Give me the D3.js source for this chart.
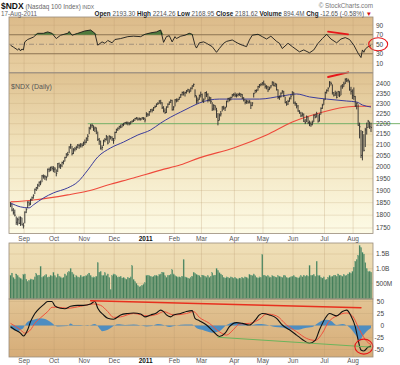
<!DOCTYPE html>
<html><head><meta charset="utf-8">
<script src="https://cdn.jsdelivr.net/npm/d3@7"></script>
<style>body{margin:0;background:#fff}svg{display:block}text{font-family:"Liberation Sans",Arial,sans-serif}</style>
</head><body><svg id="c" width="400" height="365"></svg>
<script>
// ---------- DATA ----------
const monthLabels = ["Sep","Oct","Nov","Dec","2011","Feb","Mar","Apr","May","Jun","Jul","Aug"];
const monthCounts = [10,21,21,21,22,20,19,23,20,21,22,20,13]; // trading days per month, Aug-2010 .. Aug-2011
const priceTicks = [1750,1800,1850,1900,1950,2000,2050,2100,2150,2200,2250,2300,2350,2400];
const rsiTicks = [10,30,50,70,90];
const volTicks = [5e8,1e9,1.5e9];
const volTickLabels = ["500M","1.0B","1.5B"];
const macdTicks = [-50,-25,0,25,50];

const closes = [
1842,1820,1810,1800,1772,1782,1768,1790,1762,1758,
1812,1822,1852,1845,1862,1870,1880,1905,1912,1922,1935,1932,1962,1960,1958,1955,1990,1988,1998,1995,1990,
1992,1972,2015,2005,2006,2020,2025,2042,2058,2056,2090,2100,2060,2078,2082,2088,2098,2096,2100,2098,2110,
2112,2130,2140,2178,2190,2192,2175,2180,2165,2125,2118,2085,2088,2120,2125,2140,2108,2140,2135,2128,2120,
2158,2172,2178,2186,2183,2195,2198,2205,2204,2203,2200,2208,2212,2216,2225,2228,2222,2224,2222,2228,2226,2218,
2245,2243,2258,2268,2266,2278,2284,2296,2300,2312,2303,2278,2262,2254,2282,2296,2306,2315,2268,2282,
2318,2316,2320,2330,2344,2356,2352,2355,2365,2370,2360,2378,2390,2398,2340,2315,2318,2340,2345,
2312,2318,2355,2345,2318,2328,2310,2272,2290,2282,2262,2215,2242,2248,2282,2276,2278,2310,2325,2318,2330,2343,2345,
2342,2340,2345,2348,2345,2328,2318,2305,2310,2306,2312,2290,2302,2350,2366,2367,2386,2395,2398,2405,
2400,2388,2384,2370,2378,2390,2410,2392,2400,2370,2330,2332,2352,2362,2338,2305,2297,2310,2326,2337,2358,
2302,2300,2287,2262,2252,2238,2246,2212,2205,2232,2205,2200,2195,2205,2240,2232,2248,2212,2245,2275,2290,2318,
2355,2366,2378,2410,2402,2355,2342,2350,2330,2360,2340,2390,2385,2400,2425,2418,2420,2370,2362,2340,
2335,2288,2300,2192,2185,2052,2160,2075,2170,2182,2212,2185,2182];
const lows = [
1832,1815,1802,1795,1762,1760,1765,1758,1760,1748,
1768,1808,1828,1836,1840,1858,1866,1885,1898,1905,1915,1922,1935,1950,1945,1942,1958,1978,1982,1985,1978,
1975,1960,1978,1995,1992,2000,2012,2025,2040,2048,2062,2082,2052,2058,2070,2076,2084,2082,2088,2088,2095,
2100,2108,2118,2150,2172,2180,2165,2160,2150,2118,2100,2078,2075,2095,2112,2120,2102,2110,2125,2118,2105,
2125,2155,2165,2172,2178,2182,2188,2196,2196,2192,2192,2196,2205,2208,2214,2220,2215,2216,2215,2220,2218,2206,
2232,2234,2238,2255,2255,2262,2276,2282,2292,2298,2295,2272,2255,2248,2252,2278,2292,2302,2264,2265,
2285,2305,2308,2318,2328,2340,2340,2335,2350,2358,2352,2360,2372,2385,2330,2298,2300,2318,2330,
2308,2302,2320,2332,2305,2310,2298,2262,2265,2265,2228,2192,2215,2235,2260,2268,2262,2280,2305,2310,2315,2330,2336,
2332,2330,2335,2338,2332,2322,2310,2295,2298,2298,2300,2272,2286,2330,2352,2356,2365,2380,2388,2392,
2392,2376,2372,2358,2368,2378,2392,2388,2385,2366,2322,2318,2330,2350,2332,2300,2288,2292,2308,2320,2340,
2298,2288,2275,2258,2248,2232,2234,2208,2198,2208,2198,2188,2185,2192,2208,2226,2230,2205,2210,2245,2272,2292,
2318,2350,2360,2382,2392,2345,2335,2338,2325,2335,2332,2342,2375,2385,2400,2410,2408,2365,2345,2322,
2318,2282,2270,2190,2130,2040,2030,2070,2090,2148,2180,2175,2160];
const highs = [
1852,1845,1828,1822,1795,1790,1795,1795,1790,1770,
1815,1828,1856,1856,1866,1875,1884,1908,1915,1928,1938,1942,1966,1968,1966,1962,1994,1998,2002,2005,2004,
2000,1990,2018,2020,2014,2024,2030,2046,2062,2068,2094,2105,2095,2085,2090,2096,2104,2105,2108,2108,2115,
2125,2135,2150,2185,2198,2200,2192,2186,2182,2162,2132,2120,2098,2124,2132,2146,2140,2145,2142,2140,2132,
2162,2176,2182,2190,2196,2200,2204,2208,2210,2210,2208,2212,2216,2222,2228,2232,2230,2230,2228,2232,2232,2230,
2256,2252,2262,2272,2274,2282,2290,2300,2306,2316,2318,2306,2286,2275,2285,2300,2310,2320,2318,2286,
2322,2325,2325,2334,2348,2360,2362,2360,2368,2375,2372,2382,2393,2402,2372,2340,2330,2345,2360,
2350,2325,2358,2362,2352,2335,2332,2306,2296,2292,2278,2252,2250,2262,2286,2288,2284,2314,2328,2330,2334,2348,2352,
2356,2350,2352,2355,2352,2348,2332,2320,2318,2316,2316,2308,2306,2354,2370,2372,2390,2400,2404,2410,
2418,2402,2394,2390,2386,2394,2414,2412,2406,2402,2372,2340,2356,2368,2364,2334,2312,2318,2330,2342,2362,
2358,2310,2302,2292,2266,2258,2255,2250,2222,2240,2235,2215,2210,2215,2245,2248,2258,2245,2250,2280,2298,2322,
2360,2372,2382,2415,2412,2398,2358,2365,2360,2364,2362,2392,2400,2412,2430,2432,2428,2418,2385,2372,
2382,2338,2305,2295,2205,2170,2165,2150,2180,2205,2218,2210,2205];
const volumesM = [
780,850,700,650,820,760,700,680,620,800,
820,640,560,600,650,620,620,720,830,760,780,1080,700,740,760,800,700,720,780,740,880,
760,700,820,740,720,680,700,820,760,860,900,1000,880,820,700,760,720,700,780,720,740,
740,760,800,850,760,700,720,700,740,1200,880,900,760,780,860,760,820,700,280,760,820,
800,760,700,720,740,680,700,660,640,700,680,720,1100,620,560,500,420,380,400,430,480,520,
760,780,760,740,720,740,760,780,740,800,820,880,860,760,700,760,780,800,960,820,
760,740,700,720,700,740,1300,720,700,680,660,700,740,880,840,800,780,760,700,
780,760,740,720,760,700,740,860,760,780,1000,940,860,820,780,700,680,720,700,680,720,700,680,
700,660,640,680,660,700,680,720,700,660,800,780,760,820,760,700,680,720,700,1480,
780,760,740,760,720,700,760,740,720,700,760,740,720,700,760,760,700,680,700,720,740,
760,720,700,680,720,760,720,780,740,780,740,1100,760,780,800,740,1250,760,760,700,680,720,
620,640,700,760,720,740,760,780,740,820,780,760,740,800,760,780,820,860,840,900,
1050,1250,1300,1450,1780,1720,1550,1500,1200,1000,900,920,880];

// moving averages: [trading-day index, value]
const ma50Idx = [0,7,13,16,23,30,40,47,54,61,70,79,89,98,105,112,119,126,132,146,156,174,190,200,209,221,235,242,246,252];
const ma50Val = [1849,1833,1829,1841,1869,1890,1911,1936,1987,2045,2086,2113,2146,2170,2203,2232,2257,2282,2302,2322,2322,2322,2338,2348,2333,2322,2312,2307,2292,2282];
const ma200Idx = [0,16,40,54,68,86,105,119,132,156,179,197,216,230,242,252];
const ma200Val = [1853,1861,1882,1898,1923,1953,1987,2010,2041,2086,2146,2208,2252,2277,2286,2286];

// RSI(14)
const rsiIdx = [0,2,5,6,7,8,9,10,12,16,19,23,26,29,32,35,40,41,43,47,52,56,59,61,64,66,68,71,73,77,82,86,91,94,98,102,105,107,109,111,113,115,116,119,122,125,127,129,130,132,135,137,141,144,146,149,151,155,159,162,165,167,169,173,176,179,182,186,188,190,194,197,202,205,209,212,215,218,221,224,228,231,234,237,240,243,245,246,247,248,250,252];
const rsiVal = [48,44,38,41,36,40,38,55,60,65,73,73,76,73,62,69,73,77,69,73,78,80,73,48,55,52,58,53,60,62,66,67,66,71,74,76,80,54,66,68,55,66,62,67,69,73,71,48,42,53,55,52,45,33,41,52,56,59,52,48,45,59,69,71,66,61,67,56,52,41,52,45,34,38,32,38,52,62,71,61,53,61,64,60,48,31,22,38,33,40,45,47];

// MACD(12,26,9)
const macdIdx = [0,3,7,9,12,14,16,19,23,26,29,31,35,38,42,47,51,56,59,61,65,68,72,77,82,86,91,94,98,102,105,107,109,112,114,119,123,127,129,132,137,142,146,150,153,158,162,167,171,174,176,181,186,190,195,200,204,209,213,216,220,223,228,232,235,238,241,243,245,247,250,252];
const macdVal = [-2.5,-9,-16,-22,-9,8,20,32,43,50,50,41,36,35,40,42,42,45,50,36,22,15,13,22,25,26,24,18,22,26,32,29,22,18,22,25,29,31,15,10,1,-13,-23,-16,-2.5,6,4.5,1,11,22,25,22,15,1,-9,-20,-29,-37,-31,-9,15,25,20,29,32,20,-2.5,-30,-51,-53,-45,-43];
const sigIdx = [0,7,10,14,17,21,26,29,33,40,49,58,63,68,72,77,86,96,103,107,114,123,128,132,139,146,151,156,160,167,174,179,186,193,200,207,213,218,222,228,235,239,244,249,252];
const sigVal = [4.5,-9,-16,-9,4.5,16,29,38,38,36,40,45,42,29,17,18,25,20,24,29,22,25,29,17,4.5,-13,-20,-8,3,4.5,13,24,20,1,-13,-27,-31,-16,6,20,26,20,-9,-33,-40];
const histIdx = [0,2,5,7,9,10,12,16,21,26,29,31,33,40,42,44,49,54,59,63,64,68,71,75,80,86,91,95,99,103,107,111,116,122,127,130,134,141,146,151,157,162,167,173,178,185,190,195,200,206,211,214,217,221,224,228,232,237,242,244,246,249,252];
const histVal = [-5,-9,-12,-9,-5,0,8,12,15,11,5,0,-2,-1,4,1,1,-1,3,-9,-12,-9,-3,2.5,1,2,0,-2,-1,3,1,-3,0,2,2,-5,-9,-15,-12,1,7,5,0,3,2,-3,-4,-8,-9,-5,-3,3,9,12,10,1,3,-4,-23,-33,-23,-12,-5];

// hand-drawn annotations (data coordinates)
const priceRedLine = [[222,2437],[236,2462]];
const rsiRedLine = [[222,76.5],[236,71]];
const supportStartIdx = 54, supportValue = 2200;
const macdRedLine = [[56,51.5],[245,37]];
const macdGreenLine = [[145,-24.5],[252,-45]];
const rsiCircle = [257,50];
const macdCircle = [247,-44];

// ---------- DRAW ----------
const svg = d3.select("#c");
const n = closes.length;
const L = 9, R = 373;
const x = d3.scaleLinear().domain([0, n-1]).range([10.5, 371]);
const step = x(1)-x(0);

const P = {
  rsi:{top:17,bot:72.5},
  price:{top:73,bot:233.5},
  vol:{top:243,bot:299},
  macd:{top:299,bot:357}
};
const yR = d3.scaleLinear().domain([0,100]).range([68,20.5]);
const yP = d3.scaleLog().domain([1750,2400]).range([228,84]);
const yV = d3.scaleLinear().domain([0,1.5e9]).range([298,254]);
const yM = d3.scaleLinear().domain([-50,50]).range([349.5,301.5]);

const defs = svg.append("defs");
function grad(id, stops){
  const g = defs.append("linearGradient").attr("id",id).attr("x1",0).attr("x2",0).attr("y1",0).attr("y2",1);
  stops.forEach(s=>g.append("stop").attr("offset",s[0]).attr("stop-color",s[1]));
}
grad("gR",[[0,"#dcbb8a"],[1,"#e8cfa2"]]);
grad("gP",[[0,"#dfc291"],[0.45,"#f1e2bb"],[1,"#fdfbe6"]]);
grad("gV",[[0,"#efdfb7"],[1,"#e9d4a8"]]);
grad("gM",[[0,"#e2c494"],[1,"#d6ac77"]]);

function panel(p, fill){
  svg.append("rect").attr("x",L).attr("y",p.top).attr("width",R-L).attr("height",p.bot-p.top)
    .attr("fill",`url(#${fill})`);
}
panel(P.rsi,"gR"); panel(P.price,"gP"); panel(P.vol,"gV"); panel(P.macd,"gM");

// month start indices
const monthStart = [];
let acc = 0;
monthCounts.forEach((c,k)=>{ acc += c; if(k < monthCounts.length-1) monthStart.push(acc); });

// vertical gridlines
Object.values(P).forEach(p=>{
  svg.append("g").selectAll("line").data(monthStart).join("line")
    .attr("x1",d=>x(d)-step/2).attr("x2",d=>x(d)-step/2)
    .attr("y1",p.top).attr("y2",p.bot)
    .attr("stroke","#b89a6e").attr("stroke-opacity",0.35).attr("stroke-width",0.8);
});

// horizontal gridlines
function hgrid(ticks, y, col, op){
  svg.append("g").selectAll("line").data(ticks).join("line")
    .attr("x1",L).attr("x2",R).attr("y1",d=>y(d)).attr("y2",d=>y(d))
    .attr("stroke",col||"#b89a6e").attr("stroke-opacity",op||0.3).attr("stroke-width",0.8);
}
hgrid(priceTicks, yP);
hgrid([10,90], yR);
hgrid(volTicks, yV);
hgrid(macdTicks, yM);

// RSI reference lines
svg.append("line").attr("x1",L).attr("x2",R).attr("y1",yR(70)).attr("y2",yR(70)).attr("stroke","#8c7352").attr("stroke-width",1);
svg.append("line").attr("x1",L).attr("x2",R).attr("y1",yR(30)).attr("y2",yR(30)).attr("stroke","#8c7352").attr("stroke-width",1);
svg.append("line").attr("x1",L).attr("x2",R).attr("y1",yR(50)).attr("y2",yR(50)).attr("stroke","#9a8a78").attr("stroke-width",0.9).attr("stroke-dasharray","5,2,1,2");

// RSI fill above 70
const rsiPts = rsiIdx.map((d,k)=>[d,rsiVal[k]]);
svg.append("path").datum(rsiPts)
  .attr("d",d3.area().x(d=>x(d[0])).y0(yR(70)).y1(d=>yR(Math.max(70,d[1]))))
  .attr("fill","#4e7a3c");
svg.append("path").datum(rsiPts)
  .attr("d",d3.line().x(d=>x(d[0])).y(d=>yR(d[1])))
  .attr("fill","none").attr("stroke","#1a1a1a").attr("stroke-width",0.9);

// price: support line (green)
svg.append("line").attr("x1",x(supportStartIdx)).attr("x2",400).attr("y1",yP(supportValue)).attr("y2",yP(supportValue))
  .attr("stroke","#78b46c").attr("stroke-width",1);

// moving averages
svg.append("path").datum(ma200Idx.map((d,k)=>[d,ma200Val[k]]))
  .attr("d",d3.line().curve(d3.curveMonotoneX).x(d=>x(d[0])).y(d=>yP(d[1])))
  .attr("fill","none").attr("stroke","#ee4a3c").attr("stroke-width",1.1);
svg.append("path").datum(ma50Idx.map((d,k)=>[d,ma50Val[k]]))
  .attr("d",d3.line().curve(d3.curveMonotoneX).x(d=>x(d[0])).y(d=>yP(d[1])))
  .attr("fill","none").attr("stroke","#3b3c9c").attr("stroke-width",1);

// price bars
const bars = svg.append("g");
bars.selectAll("line.hl").data(d3.range(n)).join("line")
  .attr("x1",i=>x(i)).attr("x2",i=>x(i)).attr("y1",i=>yP(lows[i])).attr("y2",i=>yP(highs[i]))
  .attr("stroke","#2a2a2a").attr("stroke-width",0.9);
bars.selectAll("line.c").data(d3.range(n)).join("line")
  .attr("x1",i=>x(i)).attr("x2",i=>x(i)+1).attr("y1",i=>yP(closes[i])).attr("y2",i=>yP(closes[i]))
  .attr("stroke","#2a2a2a").attr("stroke-width",0.8);

// "$NDX (Daily)"
svg.append("text").attr("x",11).attr("y",89).attr("font-size",7).attr("fill","#555").text("$NDX (Daily)");

// volume
svg.append("g").selectAll("rect").data(d3.range(n)).join("rect")
  .attr("x",i=>x(i)-step/2+0.2).attr("width",step-0.3)
  .attr("y",i=>yV(volumesM[i]*1e6)).attr("height",i=>yV(0)-yV(volumesM[i]*1e6)+1)
  .attr("fill","#3f7a55").attr("stroke","#6fa582").attr("stroke-width",0.25);

// MACD histogram
svg.append("path").datum(histIdx.map((d,k)=>[d,histVal[k]]))
  .attr("d",d3.area().curve(d3.curveMonotoneX).x(d=>x(d[0])).y0(yM(0)).y1(d=>yM(d[1])))
  .attr("fill","#3d88c8").attr("fill-opacity",0.9);
svg.append("path").datum(sigIdx.map((d,k)=>[d,sigVal[k]]))
  .attr("d",d3.line().curve(d3.curveMonotoneX).x(d=>x(d[0])).y(d=>yM(d[1])))
  .attr("fill","none").attr("stroke","#f0503c").attr("stroke-width",1);
svg.append("path").datum(macdIdx.map((d,k)=>[d,macdVal[k]]))
  .attr("d",d3.line().curve(d3.curveMonotoneX).x(d=>x(d[0])).y(d=>yM(d[1])))
  .attr("fill","none").attr("stroke","#111").attr("stroke-width",1.1);

// annotations
function seg(pts, y, col, w){
  svg.append("line").attr("x1",x(pts[0][0])).attr("y1",y(pts[0][1])).attr("x2",x(pts[1][0])).attr("y2",y(pts[1][1]))
    .attr("stroke",col).attr("stroke-width",w).attr("stroke-linecap","round");
}
seg(macdRedLine, yM, "#e8301e", 1.4);
seg(macdGreenLine, yM, "#6cb45c", 1);
seg(priceRedLine, yP, "#e8161a", 2);
seg(rsiRedLine, yR, "#e8161a", 1.8);
svg.append("ellipse").attr("cx",x(rsiCircle[0])).attr("cy",yR(rsiCircle[1])).attr("rx",9.5).attr("ry",6.5)
  .attr("fill","none").attr("stroke","#e8161a").attr("stroke-width",1.1);
svg.append("ellipse").attr("cx",x(macdCircle[0])).attr("cy",yM(macdCircle[1])).attr("rx",9).attr("ry",7.5)
  .attr("fill","none").attr("stroke","#e8161a").attr("stroke-width",1.1);

// panel borders
Object.values(P).forEach(p=>{
  svg.append("rect").attr("x",L).attr("y",p.top).attr("width",R-L).attr("height",p.bot-p.top)
    .attr("fill","none").attr("stroke","#9a8c7a").attr("stroke-width",0.8);
});

// right axes
const fs = 6.5, tc = "#444";
function rlabels(ticks, y, fmt, anchor, xx){
  svg.append("g").selectAll("text").data(ticks).join("text")
    .attr("x",xx).attr("y",d=>y(d)+2.3).attr("font-size",fs).attr("fill",tc).attr("text-anchor",anchor)
    .text(fmt);
}
rlabels(rsiTicks, yR, d=>d, "start", 376);
rlabels(priceTicks, yP, d=>d, "start", 376);
rlabels(volTicks, yV, (d,k)=>volTickLabels[k], "start", 376);
rlabels(macdTicks, yM, d=>d, "end", 384);

// month labels
[240.5, 363].forEach(yy=>{
  svg.append("g").selectAll("text").data(monthStart).join("text")
    .attr("x",d=>x(d)-step/2).attr("y",yy).attr("text-anchor","middle")
    .attr("font-size",fs).attr("fill",(d,k)=>monthLabels[k]==="2011"?"#111":"#555")
    .attr("font-weight",(d,k)=>monthLabels[k]==="2011"?"bold":"normal")
    .text((d,k)=>monthLabels[k]);
});

// header
const h1 = svg.append("text").attr("x",1).attr("y",9);
h1.append("tspan").attr("font-size",8.5).attr("font-weight","bold").attr("fill","#111").text("$NDX");
h1.append("tspan").attr("font-size",6.3).attr("fill","#666").text(" (Nasdaq 100 Index)");
h1.append("tspan").attr("font-size",5).attr("fill","#666").text(" INDX");
svg.append("text").attr("x",1).attr("y",16).attr("font-size",6.3).attr("fill","#666").text("17-Aug-2011");
svg.append("text").attr("x",373).attr("y",8).attr("font-size",6.3).attr("fill","#777").attr("text-anchor","end").text("© StockCharts.com");
const hd = svg.append("text").attr("x",372).attr("y",16).attr("font-size",6.3).attr("text-anchor","end").attr("fill","#222");
const quote = [["Open","2193.30"],["High","2214.26"],["Low","2168.95"],["Close","2181.62"],["Volume","894.4M"],["Chg","-12.65 (-0.58%)"]];
quote.forEach(([k,v])=>{
  hd.append("tspan").attr("font-weight","bold").text(k+" ");
  hd.append("tspan").attr("fill","#555").text(v+"  ");
});
hd.append("tspan").attr("fill","#d01010").text("▼");
</script></body></html>
